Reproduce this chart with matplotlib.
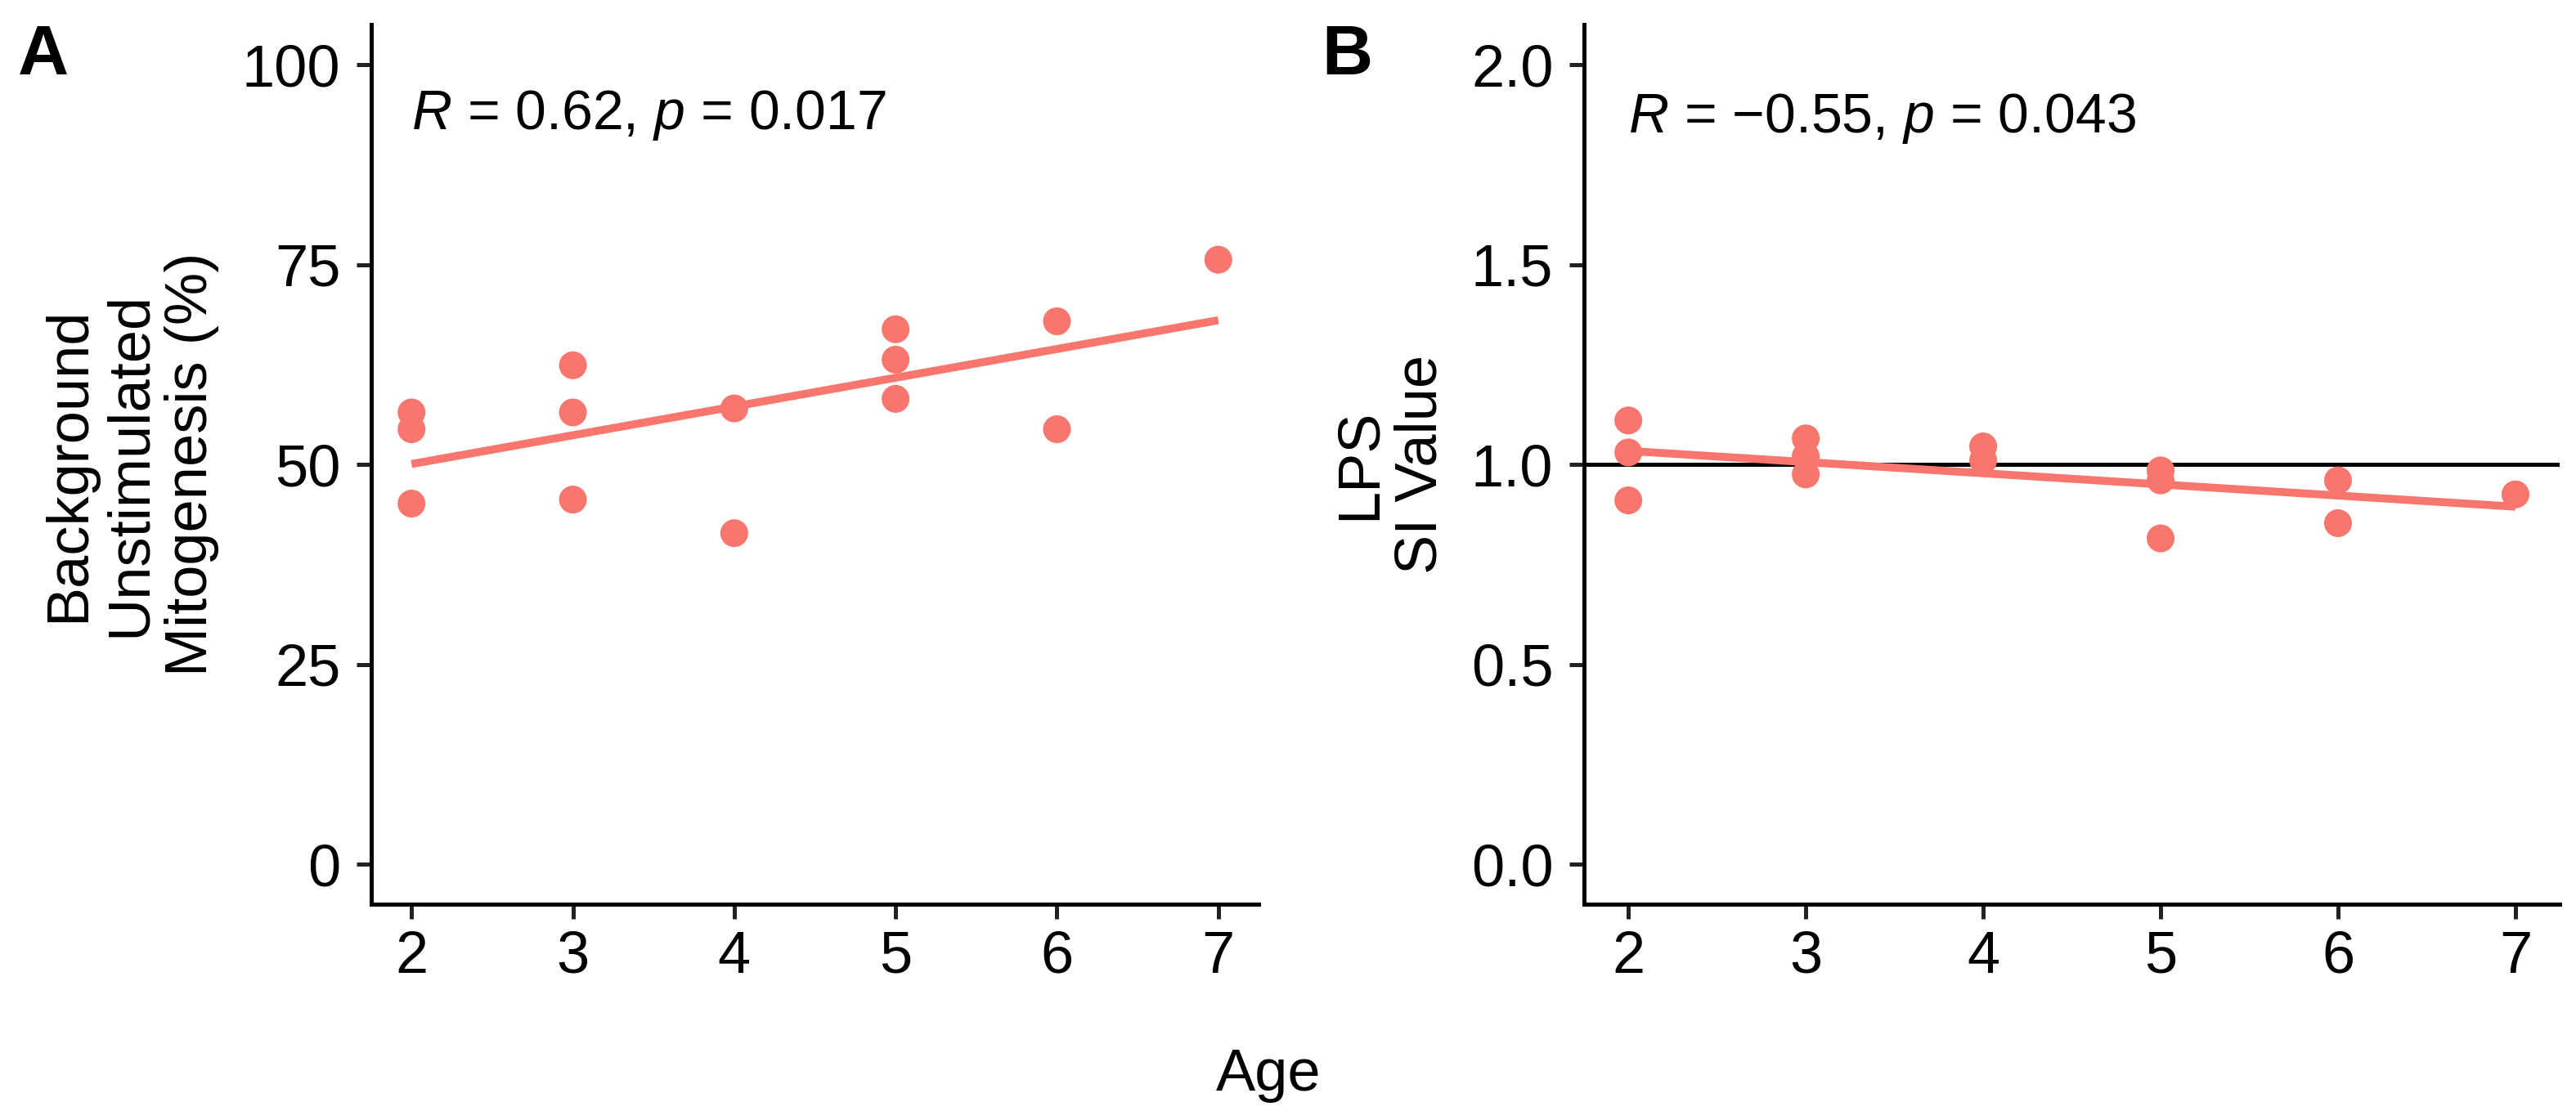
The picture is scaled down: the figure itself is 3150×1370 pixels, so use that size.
import numpy as np
import matplotlib.pyplot as plt

plt.rcParams['font.family'] = ['Liberation Sans', 'DejaVu Sans']
plt.rcParams['mathtext.fontset'] = 'custom'
plt.rcParams['mathtext.rm'] = 'Liberation Sans'
plt.rcParams['mathtext.it'] = 'Liberation Sans:italic'

# данные: возраст и значения для двух панелей
age = [2, 2, 2, 3, 3, 3, 4, 4, 5, 5, 5, 6, 6, 7]
mitogenesis = [56.5, 54.4, 45.1, 62.4, 56.5, 45.6, 57.0, 41.4, 66.9, 63.1, 58.2, 67.9, 54.4, 75.6]
lps_si = [1.11, 1.03, 0.91, 1.065, 1.02, 0.975, 1.045, 1.01, 0.985, 0.96, 0.815, 0.96, 0.853, 0.925]

stat_a = r"$\it{R}$ = 0.62, $\it{p}$ = 0.017"
stat_b = r"$\it{R}$ = " + "\u2212" + r"0.55, $\it{p}$ = 0.043"

red = '#F8766D'

fig = plt.figure(figsize=(31.5, 13.7), dpi=100)
ax_a = fig.add_axes([0.1441, 0.1927, 0.4886 - 0.1441, 0.978 - 0.1927])
ax_b = fig.add_axes([0.6149, 0.1927, 0.9937 - 0.6149, 0.978 - 0.1927])


def draw_panel(ax, x, y, ylim, yticks, ylabel, stat, stat_y):
    x = np.array(x, dtype=float)
    y = np.array(y, dtype=float)
    k, b = np.polyfit(x, y, 1)
    xs = np.array([x.min(), x.max()])
    ax.plot(xs, k * xs + b, color=red, lw=7, solid_capstyle='butt', zorder=2)
    ax.scatter(x, y, s=600, color=red, edgecolors='none', zorder=3)
    ax.set_xlim(1.75, 7.25)
    ax.set_ylim(*ylim)
    ax.set_xticks([2, 3, 4, 5, 6, 7])
    ax.set_yticks(yticks)
    for side in ['top', 'right']:
        ax.spines[side].set_visible(False)
    for side in ['left', 'bottom']:
        ax.spines[side].set_linewidth(3.6)
    ax.tick_params(axis='both', width=3.6, length=13, labelsize=52, color='#222222')
    ax.tick_params(axis='y', pad=14)
    ax.tick_params(axis='x', pad=10)
    ax.set_ylabel(ylabel, fontsize=52, labelpad=20, linespacing=1.15)
    ax.text(2.0, stat_y, stat, fontsize=49, ha='left', va='baseline')


draw_panel(ax_a, age, mitogenesis, (-5, 105), [0, 25, 50, 75, 100],
           'Background\nUnstimulated\nMitogenesis (%)', stat_a, 91.9)
draw_panel(ax_b, age, lps_si, (-0.1, 2.1), [0.0, 0.5, 1.0, 1.5, 2.0],
           'LPS\nSI Value', stat_b, 1.83)
ax_b.set_yticklabels(['0.0', '0.5', '1.0', '1.5', '2.0'])
ax_b.axhline(1.0, color='black', lw=3.6, zorder=1)

fig.text(1551 / 3150, 0.04, 'Age', fontsize=52, ha='center', va='center')
fig.text(0.007, 0.979, 'A', fontsize=62, fontweight='bold', ha='left', va='top')
fig.text(0.513, 0.979, 'B', fontsize=62, fontweight='bold', ha='left', va='top')

fig.savefig('out.png', dpi=100)
